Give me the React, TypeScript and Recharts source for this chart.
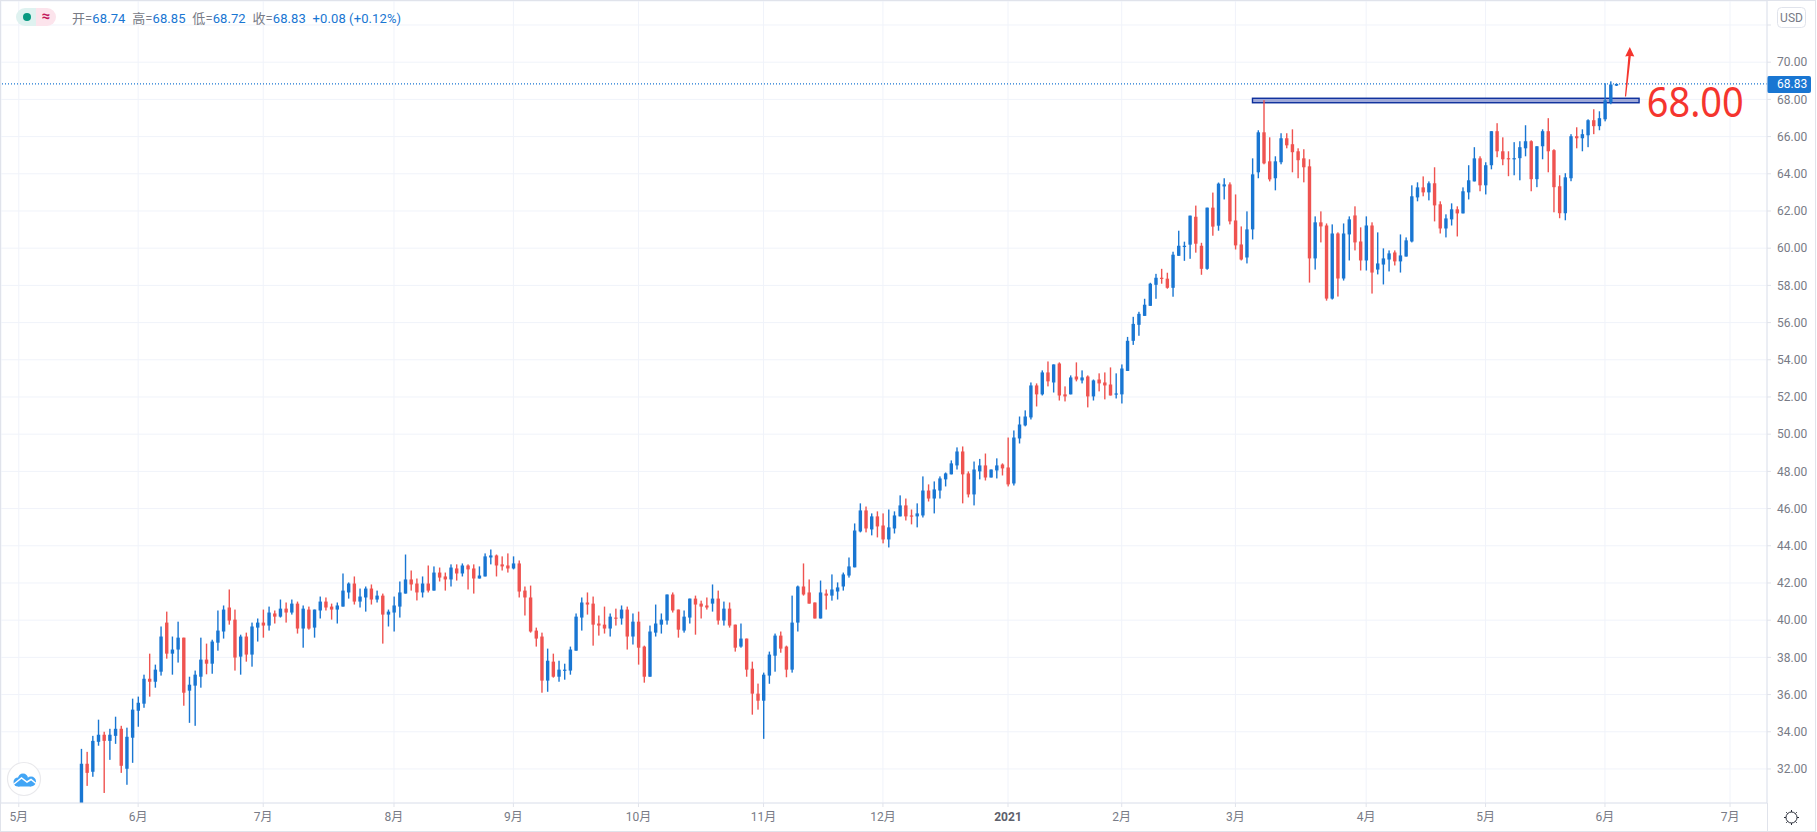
import { Bar, CartesianGrid, ComposedChart, ReferenceArea, ReferenceDot, ReferenceLine, XAxis, YAxis } from 'recharts'

const highs = [
  33.08,32.92,33.78,34.65,34.0,34.16,34.81,34.32,34.22,35.78,
  35.89,37.07,38.2,37.61,39.66,40.46,39.12,39.92,39.06,36.96,
  37.29,39.06,38.74,38.95,40.52,40.79,41.65,40.57,39.22,39.33,
  39.87,40.09,40.57,40.73,40.52,41.11,40.95,41.11,41.0,40.79,
  40.73,40.57,41.27,41.22,40.89,40.95,42.51,42.03,42.35,41.7,
  41.81,41.92,41.59,41.43,40.57,41.27,42.08,43.53,42.67,42.24,
  42.35,42.94,42.89,42.83,42.56,43.0,43.0,43.05,43.0,43.0,
  42.89,43.59,43.8,43.53,43.43,43.59,43.43,43.21,41.81,41.86,
  39.6,39.33,38.47,38.2,37.82,37.66,38.58,40.36,41.22,41.49,
  41.27,40.25,40.73,40.36,40.62,40.79,40.73,40.36,40.46,38.63,
  39.71,40.84,40.36,41.38,41.49,40.57,40.52,41.16,41.32,41.05,
  41.22,41.92,41.59,41.0,40.95,39.76,39.82,39.01,37.77,36.59,
  37.18,38.31,39.28,39.39,38.63,41.32,41.86,43.05,42.19,40.95,
  42.13,41.65,42.46,42.03,42.56,43.37,45.2,46.28,46.11,45.74,
  45.85,45.74,45.95,45.85,46.71,46.54,45.95,46.28,47.73,47.3,
  47.46,47.73,47.94,48.59,49.29,49.34,48.0,48.53,48.67,48.96,
  48.1,48.7,48.43,49.82,50.2,50.95,51.28,52.78,52.73,53.43,
  53.91,53.75,53.86,52.57,53.16,53.86,53.43,53.16,52.94,53.27,
  53.32,53.59,53.27,53.75,55.23,56.31,56.58,57.28,58.14,58.62,
  58.89,58.68,59.81,60.94,60.35,61.75,62.29,60.29,62.18,62.99,
  63.53,63.76,63.54,62.89,61.17,61.98,64.83,66.34,67.96,65.96,
  64.94,66.18,66.18,66.39,65.37,65.32,64.78,61.71,61.98,61.33,
  61.28,60.85,61.33,61.71,62.25,61.12,61.71,61.39,60.85,59.99,
  59.88,59.88,60.74,60.58,63.38,63.54,63.86,63.59,64.35,62.52,
  61.82,62.41,62.25,63.27,64.46,65.43,64.94,64.62,66.29,66.72,
  65.96,65.21,65.7,65.75,66.61,65.8,65.48,66.39,66.99,65.32,
  63.92,64.03,66.13,66.5,66.39,66.93,67.47,67.36,68.87,68.97,68.85,
]
const opens = [
  30.17,32.28,31.85,33.46,33.84,33.51,33.78,34.16,32.01,33.68,
  35.13,35.51,36.85,36.69,37.23,39.87,38.2,38.42,39.06,36.21,
  36.48,36.96,37.88,37.66,38.79,39.39,40.68,40.03,38.04,39.12,
  38.15,39.6,39.87,39.71,40.36,40.19,40.62,40.41,40.89,39.55,
  40.57,39.6,40.52,41.0,40.73,40.57,40.73,41.49,41.97,41.0,
  41.22,41.7,41.11,41.32,40.3,40.41,40.73,41.43,42.19,41.97,
  41.49,41.97,41.59,42.56,42.35,42.19,42.78,42.51,42.94,42.78,
  42.24,42.35,43.37,43.48,43.0,42.94,42.78,43.05,41.59,41.22,
  39.44,39.12,36.75,37.77,36.96,37.29,37.29,38.36,40.14,40.95,
  40.89,39.82,39.76,39.55,40.14,40.09,40.57,39.12,39.92,38.58,
  36.96,39.33,39.76,39.98,41.38,40.57,39.44,40.14,41.16,40.89,
  40.79,40.89,41.16,39.98,40.62,39.76,38.58,39.01,37.39,36.05,
  35.67,37.02,38.09,39.17,38.58,37.34,39.87,41.81,41.49,40.95,
  40.09,41.43,41.32,41.54,41.81,42.4,42.84,44.77,45.9,44.88,
  45.58,45.09,44.34,44.93,45.58,46.17,45.63,45.58,45.63,46.97,
  46.54,46.97,47.57,47.84,48.32,49.07,47.89,46.76,48.0,48.32,
  47.67,48.05,48.37,48.21,47.35,49.77,50.47,50.9,52.62,52.14,
  53.32,52.78,53.8,52.14,52.14,53.1,52.89,53.1,52.03,52.94,
  52.78,52.67,52.14,52.14,53.4,55.02,55.88,56.36,56.9,58.03,
  58.41,58.36,57.87,59.59,60.08,60.19,61.69,60.13,58.89,62.18,
  61.21,63.32,63.43,61.49,60.2,59.5,61.01,64.08,66.23,64.67,
  63.76,64.62,65.91,65.59,65.21,64.83,64.4,59.45,61.39,61.22,
  57.29,60.79,58.37,60.74,61.76,60.36,59.34,61.22,58.85,59.12,
  59.39,59.77,59.29,59.55,60.36,62.73,63.27,63.0,63.49,62.36,
  61.06,61.55,62.09,61.87,63.0,63.59,64.83,63.38,64.46,66.29,
  65.21,64.84,64.78,64.84,65.37,65.75,63.71,65.48,66.29,65.27,
  63.33,61.88,63.76,66.02,65.91,66.07,66.88,66.56,66.93,67.85,68.74,
]
const closes = [
  32.28,31.79,33.51,33.84,33.51,33.84,34.16,32.17,33.73,35.19,
  35.56,36.85,36.69,37.34,39.12,38.2,38.42,39.06,36.1,36.53,
  37.07,37.88,37.66,38.85,39.44,40.57,39.98,37.99,39.12,38.15,
  39.66,39.87,39.71,40.41,40.19,40.62,40.41,40.89,39.55,40.62,
  39.55,40.57,41.0,40.68,40.57,40.79,41.59,41.97,41.0,41.27,
  41.7,41.11,41.32,40.3,40.46,40.79,41.49,42.19,41.92,41.49,
  41.97,41.59,42.56,42.29,42.19,42.83,42.51,42.94,42.73,42.24,
  42.4,43.43,43.48,42.94,42.89,42.78,43.05,41.54,41.22,39.39,
  39.01,36.75,37.82,36.96,37.34,37.34,38.42,40.19,40.95,40.84,
  39.76,39.71,39.55,40.19,40.09,40.57,39.12,39.92,38.52,36.96,
  39.39,39.82,40.03,41.38,40.52,39.49,40.19,41.16,40.84,40.73,
  40.68,41.16,39.98,40.62,39.71,38.52,39.01,37.34,36.05,35.67,
  37.07,38.15,39.17,38.47,37.34,39.87,41.81,41.38,40.89,40.09,
  41.49,41.32,41.65,41.76,42.46,42.89,44.82,45.9,44.93,45.58,
  45.04,44.34,44.99,45.63,46.17,45.58,45.58,45.74,46.97,46.54,
  47.03,47.62,47.89,48.43,49.07,47.84,46.76,48.1,48.32,47.67,
  48.1,48.32,48.16,47.3,49.82,50.52,50.95,52.62,52.14,53.32,
  52.84,53.75,52.08,52.03,53.05,52.94,53.05,52.03,52.89,52.73,
  52.62,52.08,52.19,53.53,55.02,55.93,56.47,56.96,58.09,58.41,
  58.36,57.87,59.65,60.13,60.13,61.75,60.24,58.89,62.18,61.16,
  63.47,63.43,61.44,60.15,59.39,61.01,63.97,66.23,64.56,63.7,
  64.67,65.91,65.53,65.16,64.73,64.35,59.45,61.39,61.17,57.29,
  60.79,58.37,60.79,61.55,60.31,59.34,61.22,58.69,59.18,59.45,
  59.72,59.29,59.61,60.42,62.79,63.27,63.0,63.49,62.3,61.06,
  61.6,62.09,61.87,63.06,63.65,64.83,63.38,64.46,66.29,65.21,
  64.78,64.78,64.84,65.43,65.75,63.71,65.48,66.29,65.21,63.28,
  61.88,63.81,66.02,65.91,66.13,66.88,66.56,66.99,67.95,68.8,68.83,
]
const lows = [
  30.17,31.09,31.58,33.25,30.71,32.49,33.35,31.79,31.15,32.33,
  34.27,35.29,35.89,36.37,37.02,37.93,37.07,37.72,35.4,34.48,
  34.32,36.37,37.09,37.12,38.36,39.01,39.76,37.29,37.07,37.77,
  37.5,38.85,39.06,39.44,39.82,40.14,39.87,40.3,39.28,38.52,
  39.49,39.06,40.09,40.52,40.03,39.82,40.73,41.16,40.84,40.68,
  40.46,40.84,40.95,38.74,39.66,39.39,40.14,41.43,41.59,41.06,
  41.22,41.49,41.59,42.08,41.59,41.81,42.13,42.35,41.65,41.43,
  42.24,42.35,43.0,42.35,42.67,42.56,42.73,41.22,40.25,39.33,
  38.58,36.1,36.15,36.91,36.69,36.8,37.07,38.36,39.44,40.3,
  38.63,39.17,39.28,39.12,39.71,39.76,38.42,38.69,37.61,36.64,
  36.96,39.12,39.28,39.76,40.41,39.06,39.33,39.82,39.22,40.09,
  40.57,40.46,39.76,39.71,39.6,38.31,38.52,36.96,34.92,35.19,
  33.62,36.58,37.23,38.25,36.93,37.18,39.39,41.32,40.89,40.09,
  40.09,40.57,41.05,41.11,41.59,42.29,42.84,44.72,44.72,44.56,
  44.45,44.13,43.91,44.66,45.58,45.36,45.15,44.99,45.52,46.38,
  45.74,46.54,47.19,47.84,48.1,46.28,46.6,46.17,47.57,47.51,
  47.67,47.62,47.78,47.19,47.24,49.5,50.42,50.79,51.49,52.08,
  52.57,52.24,51.81,51.76,52.14,52.84,52.73,51.44,51.81,52.3,
  51.87,52.08,51.92,51.65,53.4,54.8,55.29,56.36,56.9,57.28,
  58.09,57.82,57.39,59.59,59.32,59.43,59.76,58.57,58.84,60.67,
  60.94,62.62,61.28,59.93,59.34,59.18,60.47,63.76,64.51,63.59,
  63.11,64.51,65.37,64.08,63.76,63.54,58.15,58.85,60.31,57.18,
  57.24,57.4,58.26,59.34,59.88,58.8,58.8,57.56,58.59,58.05,
  58.75,59.07,58.69,59.55,60.31,62.52,62.79,62.57,61.44,60.79,
  60.58,61.22,60.63,61.87,62.62,63.59,63.06,62.89,64.24,64.89,
  64.46,63.87,63.92,63.65,64.94,63.06,63.28,64.78,64.08,61.93,
  61.61,61.5,63.6,65.37,65.21,65.43,66.13,66.34,66.82,67.74,68.72,
]

// empty slots before the first candle and after the last one
const leadSlots = 13
const slotCount = 310
const monthSlots = [2, 23, 45, 68, 89, 111, 133, 154, 176, 196, 216, 239, 260, 281, 303]
const monthLabels = ['5月', '6月', '7月', '8月', '9月', '10月', '11月', '12月', '2021', '2月', '3月', '4月', '5月', '6月', '7月']
const priceTicks = [32, 34, 36, 38, 40, 42, 44, 46, 48, 50, 52, 54, 56, 58, 60, 62, 64, 66, 68, 70, 72]

const lastPrice = 68.83
const boxBottom = 67.82
const boxTop = 68.06

const UP = '#1976d2'
const DOWN = '#ef5350'
const GRID = '#f0f3fa'
const AXIS = '#e0e3eb'
const TEXT = '#787b86'
const MARK = '#f5352e'
const CJK = 'Roboto, "Noto Sans CJK SC", sans-serif'

const rows = Array.from({ length: slotCount }, (_, slot) => {
  const i = slot - leadSlots
  return { slot, open: opens[i], high: highs[i], low: lows[i], close: closes[i] }
})

const Candle = (props: any) => {
  const { x, y, width, height, payload } = props
  if (payload.high == null || height == null) return null
  const mid = x + width / 2
  const range = payload.high - payload.low
  const yOf = (v: number) => y + ((payload.high - v) / range) * height
  const top = yOf(Math.max(payload.open, payload.close))
  const bottom = yOf(Math.min(payload.open, payload.close))
  const color = payload.close >= payload.open ? UP : DOWN
  return (
    <g>
      <rect x={mid - 0.7} y={y} width={1.4} height={height} fill={color} />
      <rect x={mid - 1.7} y={top} width={3.4} height={Math.max(bottom - top, 1.2)} fill={color} />
    </g>
  )
}

const MonthTick = (props: any) => {
  const { x, y, payload } = props
  const label = monthLabels[monthSlots.indexOf(payload.value)]
  const isYear = label === '2021'
  return (
    <text x={x} y={y + 12} textAnchor="middle" fontSize={12} fontFamily={CJK} fontWeight={isYear ? 700 : 400} fill={isYear ? '#5d606b' : TEXT}>
      {label}
    </text>
  )
}

const PriceTag = (props: any) => {
  const { x, y, width } = props.viewBox
  return (
    <g>
      <rect x={x + width} y={y - 8} width={44} height={17} rx={2} fill={UP} />
      <text x={x + width + 10} y={y + 4.5} fontSize={12} fontFamily="Roboto, sans-serif" fill="#fff">68.83</text>
    </g>
  )
}

// the drawn box runs from candle centre to candle centre
const ResistanceBox = (props: any) => {
  const { x, y, width, height } = props
  const half = 5.685 / 2
  return <rect x={x + half} y={y} width={width - half * 2} height={height} fill="#9fa9d8" stroke="#0d2f9c" strokeWidth={1.4} />
}

const BigLabel = (props: any) => (
  <text x={props.cx + 2} y={props.cy} fontSize={42} textLength={97} lengthAdjust="spacingAndGlyphs" fontFamily='"Noto Sans", sans-serif' fill={MARK}>68.00</text>
)

const Arrow = (props: any) => {
  const x = props.cx - 2.3
  const y = props.cy
  return (
    <path
      d={`M${x - 0.5} ${y} L${x + 3} ${y - 40.5} L${x - 0.2} ${y - 40} L${x + 4.4} ${y - 49.5} L${x + 8.9} ${y - 40} L${x + 5.4} ${y - 40.5} L${x + 0.7} ${y} Z`}
      fill={MARK}
    />
  )
}

const Legend = () => (
  <div style={{ position: 'absolute', left: 16, top: 8, height: 18, display: 'flex', alignItems: 'center', fontFamily: CJK, fontSize: 13, letterSpacing: 0.1, whiteSpace: 'pre' }}>
    <span style={{ width: 20, height: 18, background: '#dff2f0', borderRadius: '9px 0 0 9px', position: 'relative' }}>
      <span style={{ position: 'absolute', left: 7, top: 5, width: 8, height: 8, borderRadius: 4, background: '#089981' }} />
    </span>
    <span style={{ width: 20, height: 18, background: '#fce4ec', borderRadius: '0 9px 9px 0', color: '#c2185b', textAlign: 'center', fontSize: 15, lineHeight: '17px', fontWeight: 700 }}>≈</span>
    <span style={{ marginLeft: 16, color: TEXT }}>开=<span style={{ color: UP }}>68.74</span>  高=<span style={{ color: UP }}>68.85</span>  低=<span style={{ color: UP }}>68.72</span>  收=<span style={{ color: UP }}>68.83</span>  <span style={{ color: UP }}>+0.08 (+0.12%)</span></span>
  </div>
)

const Chrome = () => (
  <svg width={1817} height={832} style={{ position: 'absolute', left: 0, top: 0, pointerEvents: 'none' }}>
    <rect x={0.5} y={0.5} width={1815} height={831} fill="none" stroke={AXIS} />
    <line x1={1767.5} y1={803} x2={1767.5} y2={831} stroke={AXIS} />
    {/* USD badge */}
    <rect x={1777.5} y={7.5} width={28} height={20} rx={4} fill="#fff" stroke={AXIS} />
    <text x={1791.5} y={22} textAnchor="middle" fontSize={12} fontFamily="Roboto, sans-serif" fill={TEXT}>USD</text>
    {/* logo */}
    <circle cx={24} cy={779} r={16.5} fill="#fff" stroke="#e9e9ec" strokeWidth={1.2} />
    <g fill="#42a5f5">
      <circle cx={18} cy={782} r={4.5} />
      <circle cx={23} cy={778.5} r={5} />
      <circle cx={31} cy={781.5} r={5} />
      <rect x={18} y={782} width={13} height={4.5} />
    </g>
    <path d="M14 784 L21.5 778 L27 782 L31 779.5 L36 783.5" fill="none" stroke="#fff" strokeWidth={1.5} />
    {/* settings */}
    <circle cx={1791.5} cy={817.5} r={5.5} fill="none" stroke="#2a2e39" strokeWidth={1} />
    <path d="M1791.5 810 V812 M1791.5 823 V825 M1784 817.5 H1786 M1797 817.5 H1799 M1786.2 812.2 L1787.6 813.6 M1795.4 821.4 L1796.8 822.8 M1796.8 812.2 L1795.4 813.6 M1787.6 821.4 L1786.2 822.8" stroke="#2a2e39" strokeWidth={1} />
  </svg>
)

export default function App() {
  return (
    <div style={{ position: 'absolute', left: 0, top: 0, width: 1817, height: 832, background: '#fff', overflow: 'hidden' }}>
      <ComposedChart width={1817} height={832} data={rows} margin={{ top: 1, right: 1, bottom: 1, left: 1 }} barCategoryGap={0}>
        <CartesianGrid stroke={GRID} strokeWidth={1} />
        <XAxis
          dataKey="slot"
          ticks={monthSlots}
          interval={0}
          height={28}
          padding={{ left: 3.55, right: 0 }}
          stroke={AXIS}
          tickSize={4}
          tick={<MonthTick />}
        />
        <YAxis
          orientation="right"
          width={49}
          domain={[30.17, 73.29]}
          ticks={priceTicks}
          interval={0}
          allowDataOverflow
          stroke={AXIS}
          tickSize={4}
          tickMargin={6}
          tick={{ fontSize: 12, fontFamily: 'Roboto, sans-serif', fill: TEXT }}
          // the 72 grid line stays, its label sits under the USD badge
          tickFormatter={(v: number) => (v === 72 ? '' : v.toFixed(2))}
        />
        <ReferenceArea x1={219} x2={287} y1={boxBottom} y2={boxTop} shape={<ResistanceBox />} />
        <Bar dataKey={(d: any) => (d.high == null ? null : [d.low, d.high])} shape={<Candle />} isAnimationActive={false} />
        <ReferenceLine y={lastPrice} stroke={UP} strokeWidth={1.2} strokeDasharray="1 2" label={<PriceTag />} />
        <ReferenceDot x={288} y={67.04} r={0} shape={<BigLabel />} />
        <ReferenceDot x={285} y={68.15} r={0} shape={<Arrow />} />
      </ComposedChart>
      <Chrome />
      <Legend />
    </div>
  )
}
